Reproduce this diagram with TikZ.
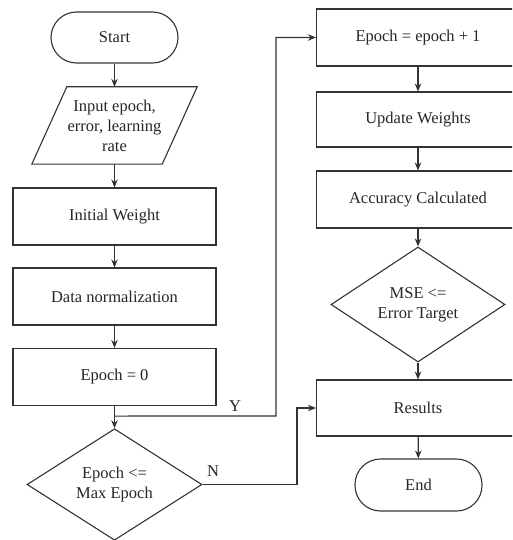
\documentclass[tikz,border=0pt]{standalone}
\usepackage{fontspec}
\setmainfont{Liberation Serif}
\usetikzlibrary{arrows.meta,shapes.geometric,calc}
\begin{document}
\begin{tikzpicture}[x=1pt,y=-1pt,
  every node/.style={font=\fontsize{16.5}{20}\selectfont, text=black!85, align=center},
  line/.style={draw=black!80, line width=1.1pt},
  arr/.style={line, -{Stealth[length=8pt,width=6.5pt]}},
  boxnode/.style={draw=black!80, line width=1.1pt, rectangle, minimum width=203pt, minimum height=57pt, inner sep=0pt},
  term/.style={draw=black!80, line width=1.1pt, rectangle, rounded corners=25.5pt, minimum width=127pt, minimum height=51pt, inner sep=0pt},
  dec/.style={draw=black!80, line width=1.1pt, diamond, minimum width=175pt, minimum height=106pt, inner sep=0pt}
]
\useasboundingbox (0,0) rectangle (512,540);
\clip (0,0) rectangle (512,540);

% left column
\node[term] (start) at (114.5,37.5) {Start};
\node[minimum height=77pt, minimum width=130pt, inner sep=0pt] (inp) at (114.5,125.5) {Input epoch,\\error, learning\\rate};
\draw[line] ([xshift=17.5pt]inp.north west) -- ([xshift=17.5pt]inp.north east)
  -- ([xshift=-17.5pt]inp.south east) -- ([xshift=-17.5pt]inp.south west) -- cycle;
\node[boxnode] (iw) at (114.5,216.5) {Initial Weight};
\node[boxnode] (dn) at (114.5,296.5) {Data normalization};
\node[boxnode] (e0) at (114.5,377) {Epoch = 0};
\node[dec] (d1) at (114.5,484.5) {Epoch <=\\Max Epoch};

% right column
\node[boxnode] (e1) at (418,37.5) {Epoch = epoch + 1};
\node[boxnode, minimum height=55pt] (uw) at (418,119.5) {Update Weights};
\node[boxnode] (ac) at (418,199.5) {Accuracy Calculated};
\node[dec, minimum width=174pt, minimum height=105pt] (d2) at (418,304.5) {MSE <=\\Error Target};
\node[boxnode, minimum height=56pt] (res) at (418,408) {Results};
\node[term, minimum height=52pt] (end) at (418.5,485) {End};

% connectors
\draw[arr] (start) -- (inp);
\draw[arr] (inp) -- (iw);
\draw[arr] (iw) -- (dn);
\draw[arr] (dn) -- (e0);
\draw[arr] (e0) -- (d1);
\coordinate (j) at ($(e0.south)+(0,10)$);
\coordinate (ybend) at (276,416);
\draw[arr] (j) -- (ybend) |- (e1.west);
\node (ylab) at (235,406) {Y};
\coordinate (nbend) at (297,484.5);
\draw[arr] (d1.east) -- (nbend) |- (res.west);
\node (nlab) at (213,471) {N};

\draw[arr] (e1) -- (uw);
\draw[arr] (uw) -- (ac);
\draw[arr] (ac) -- (d2);
\draw[arr] (d2) -- (res);
\draw[arr] (res) -- (end);
\end{tikzpicture}
\end{document}
